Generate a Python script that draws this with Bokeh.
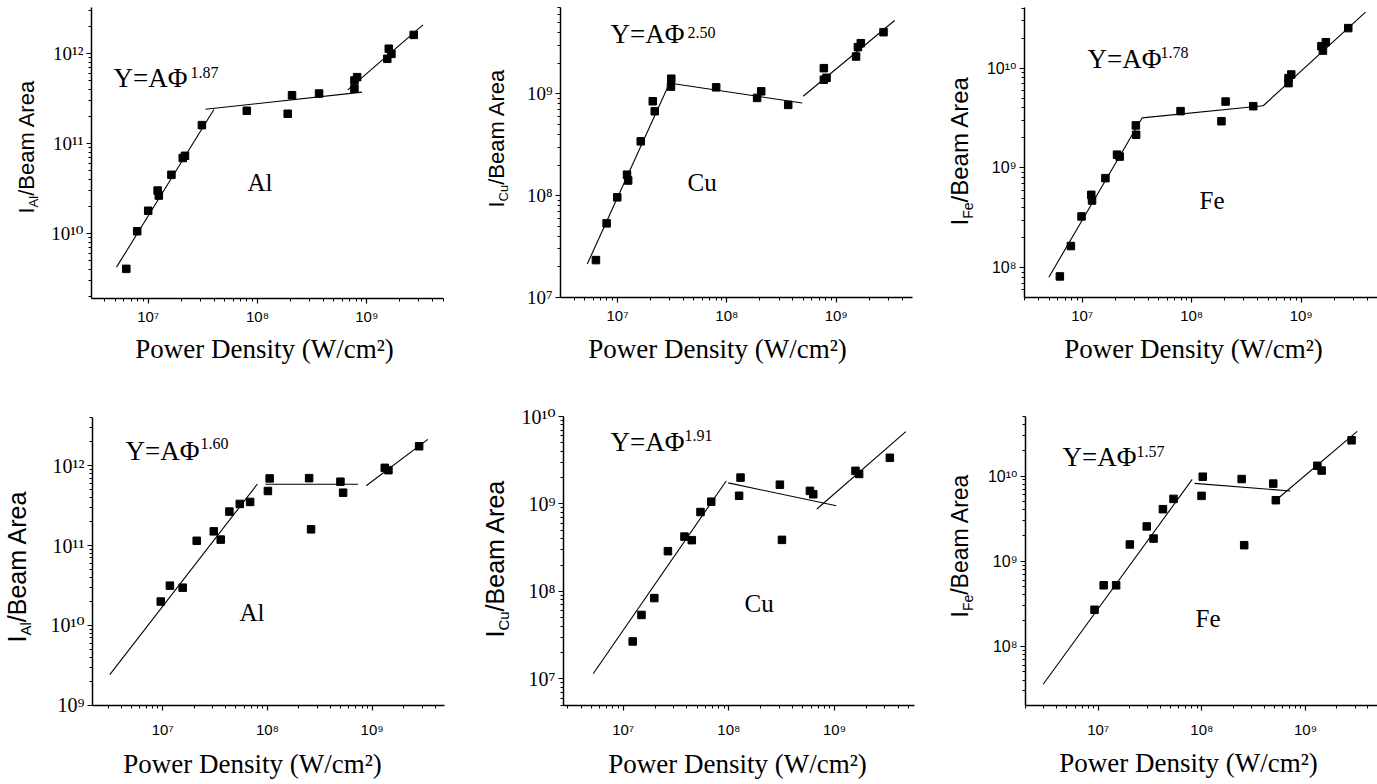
import math
from bokeh.plotting import figure
from bokeh.models import Range1d, FixedTicker, CustomJSTickFormatter, Label
from bokeh.layouts import row, column
from bokeh.embed import file_html
from bokeh.resources import INLINE

# ---------------- data ----------------
elements = ["Al", "Cu", "Fe", "Al", "Cu", "Fe"]
exponents = ["1.87", "2.50", "1.78", "1.60", "1.91", "1.57"]
x_title = "Power Density (W/cm\u00b2)"
y_title_tail = "/Beam Area"
x_ticks = [1e7, 1e8, 1e9]

# top-left: Al
al1_phi = [6.3e6, 7.93e6, 1.0e7, 1.22e7, 1.25e7, 1.63e7, 2.07e7, 2.17e7, 3.10e7, 7.98e7,
           1.89e8, 2.07e8, 3.66e8, 7.71e8, 7.71e8, 8.16e8, 1.54e9, 1.59e9, 1.68e9, 2.69e9]
al1_int = [4.05e9, 1.06e10, 1.79e10, 3.0e10, 2.64e10, 4.49e10, 6.9e10, 7.3e10, 1.60e11, 2.31e11,
           2.14e11, 3.44e11, 3.59e11, 4.05e11, 5.01e11, 5.46e11, 8.73e11, 1.13e12, 9.9e11, 1.61e12]
al1_fit_phi = [[5.13e6, 3.99e7], [3.34e7, 9.06e8], [6.7e8, 3.27e9]]
al1_fit_int = [[4.23e9, 2.39e11], [2.40e11, 3.72e11], [3.95e11, 2.08e12]]
al1_yticks = [1e10, 1e11, 1e12]

# top-middle: Cu
cu1_phi = [6.34e6, 7.94e6, 9.93e6, 1.22e7, 1.25e7, 1.63e7, 2.10e7, 2.19e7, 3.10e7, 3.08e7, 7.98e7,
           1.89e8, 2.06e8, 3.64e8, 7.71e8, 7.71e8, 8.16e8, 1.52e9, 1.58e9, 1.68e9, 2.71e9]
cu1_int = [2.33e7, 5.35e7, 9.64e7, 1.61e8, 1.41e8, 3.42e8, 8.47e8, 6.76e8, 1.41e9, 1.18e9, 1.16e9,
           9.14e8, 1.06e9, 7.8e8, 1.79e9, 1.38e9, 1.44e9, 2.33e9, 2.88e9, 3.15e9, 4.04e9]
cu1_fit_phi = [[5.28e6, 2.95e7], [2.95e7, 4.89e8], [4.99e8, 3.42e9]]
cu1_fit_int = [[2.13e7, 1.24e9], [1.28e9, 8.15e8], [9.48e8, 5.26e9]]
cu1_yticks = [1e7, 1e8, 1e9]

# top-right: Fe
fe1_phi = [6.25e6, 7.88e6, 9.86e6, 1.21e7, 1.23e7, 1.63e7, 2.08e7, 2.2e7, 3.09e7, 3.11e7, 7.91e7,
           1.87e8, 2.04e8, 3.65e8, 7.66e8, 7.66e8, 8.11e8, 1.53e9, 1.58e9, 1.68e9, 2.69e9]
fe1_int = [8.19e7, 1.65e8, 3.27e8, 5.38e8, 4.72e8, 7.91e8, 1.36e9, 1.3e9, 2.67e9, 2.15e9, 3.71e9,
           2.94e9, 4.63e9, 4.16e9, 7.08e9, 7.94e9, 8.64e9, 1.66e10, 1.50e10, 1.82e10, 2.52e10]
fe1_fit_phi = [[4.96e6, 3.53e7], [3.53e7, 4.50e8], [4.50e8, 3.87e9]]
fe1_fit_int = [[8.05e7, 3.18e9], [3.18e9, 4.2e9], [4.2e9, 3.64e10]]
fe1_yticks = [1e8, 1e9, 1e10]

# bottom-left: Al
al2_phi = [9.57e6, 1.17e7, 1.55e7, 2.11e7, 3.07e7, 3.58e7, 4.33e7, 5.44e7, 6.83e7, 1.01e8,
           1.05e8, 2.50e8, 2.61e8, 4.98e8, 5.28e8, 1.32e9, 1.43e9, 2.81e9]
al2_int = [1.99e10, 3.15e10, 2.97e10, 1.15e11, 1.51e11, 1.19e11, 2.67e11, 3.33e11, 3.53e11, 4.84e11,
           6.96e11, 7.01e11, 1.60e11, 6.33e11, 4.61e11, 9.44e11, 8.83e11, 1.76e12]
al2_fit_phi = [[3.12e6, 8.02e7], [9.57e7, 7.34e8], [8.77e8, 3.40e9]]
al2_fit_int = [[2.41e9, 5.92e11], [5.87e11, 5.87e11], [5.64e11, 2.15e12]]
al2_yticks = [1e9, 1e10, 1e11, 1e12]

# bottom-middle: Cu
cu2_phi = [1.23e7, 1.49e7, 1.97e7, 2.65e7, 3.80e7, 4.46e7, 5.39e7, 6.81e7, 1.25e8, 1.29e8,
           3.04e8, 3.18e8, 5.85e8, 6.29e8, 1.58e9, 1.71e9, 3.34e9]
cu2_int = [2.67e7, 5.37e7, 8.37e7, 2.88e8, 4.23e8, 3.85e8, 8.07e8, 1.06e9, 1.24e9, 2.0e9,
           1.66e9, 3.88e8, 1.41e9, 1.29e9, 2.39e9, 2.20e9, 3.37e9]
cu2_fit_phi = [[5.2e6, 9.44e7], [9.87e7, 1.04e9], [6.81e8, 4.73e9]]
cu2_fit_int = [[1.14e7, 1.83e9], [1.74e9, 9.51e8], [8.74e8, 6.70e9]]
cu2_yticks = [1e7, 1e8, 1e9, 1e10]

# bottom-right: Fe
fe2_phi = [9.22e6, 1.13e7, 1.49e7, 2.02e7, 2.94e7, 3.42e7, 4.21e7, 5.33e7, 9.93e7, 1.02e8,
           2.42e8, 2.56e8, 4.88e8, 5.17e8, 1.30e9, 1.43e9, 2.78e9]
fe2_int = [2.68e8, 5.20e8, 5.20e8, 1.57e9, 2.56e9, 1.84e9, 4.08e9, 5.39e9, 5.85e9, 9.82e9,
           9.22e9, 1.54e9, 8.15e9, 5.20e9, 1.32e10, 1.16e10, 2.63e10]
fe2_fit_phi = [[2.95e6, 8.07e7], [8.49e7, 7.16e8], [5.45e8, 3.15e9]]
fe2_fit_int = [[3.57e7, 9.14e9], [8.21e9, 6.68e9], [5.48e9, 3.35e10]]
fe2_yticks = [1e8, 1e9, 1e10]

# ---------------- layout / style ----------------
SERIF = "'Liberation Serif', 'DejaVu Serif', serif"
SANS = "'Liberation Sans', 'DejaVu Sans', sans-serif"
MID = 0.34  # distance (em) from the alphabetic baseline to the 'middle' anchor

# page geometry (px): column x-split, plot figure box, frame box, log ranges, text anchors
panels = [
    dict(phi=al1_phi, inten=al1_int, fphi=al1_fit_phi, fint=al1_fit_int, yt=al1_yticks,
         box=(0, 45, 460, 0, 330, 385), frame=(91, 443, 7, 298), xr=(6.481, 9.702), yr=(9.278, 12.511),
         yfont=(SERIF, 19), eq=(113, 87, 190, 77), el=(247, 190), xt=(264, 358),
         yl=(33, 245, 22, 13)),
    dict(phi=cu1_phi, inten=cu1_int, fphi=cu1_fit_phi, fint=cu1_fit_int, yt=cu1_yticks,
         box=(460, 515, 920, 0, 330, 385), frame=(560, 912, 7, 297), xr=(6.478, 9.698), yr=(7.0, 9.849),
         yfont=(SERIF, 19), eq=(610, 43, 687, 37), el=(687, 190), xt=(717, 358),
         yl=(503, 240, 22, 13)),
    dict(phi=fe1_phi, inten=fe1_int, fphi=fe1_fit_phi, fint=fe1_fit_int, yt=fe1_yticks,
         box=(920, 978, 1377, 0, 330, 385), frame=(1024, 1377, 7, 297), xr=(6.473, 9.697), yr=(7.702, 10.608),
         yfont=(SANS, 16), eq=(1087, 68, 1160, 57), el=(1199, 208), xt=(1193, 358),
         yl=(967, 258, 24, 14)),
    dict(phi=al2_phi, inten=al2_int, fphi=al2_fit_phi, fint=al2_fit_int, yt=al2_yticks,
         box=(0, 45, 460, 385, 740, 784), frame=(92, 444, 417, 707), xr=(6.329, 9.691), yr=(8.996, 12.606),
         yfont=(SERIF, 20), eq=(125, 462, 200, 450), el=(239, 622), xt=(252, 773),
         yl=(25, 677, 25, 15)),
    dict(phi=cu2_phi, inten=cu2_int, fphi=cu2_fit_phi, fint=cu2_fit_int, yt=cu2_yticks,
         box=(460, 515, 920, 385, 740, 784), frame=(563, 914, 416, 707), xr=(6.435, 9.757), yr=(6.694, 10.0),
         yfont=(SERIF, 20), eq=(610, 453, 684, 442), el=(744, 613), xt=(737, 773),
         yl=(503, 672, 25, 15)),
    dict(phi=fe2_phi, inten=fe2_int, fphi=fe2_fit_phi, fint=fe2_fit_int, yt=fe2_yticks,
         box=(920, 978, 1377, 385, 740, 784), frame=(1025, 1377, 416, 707), xr=(6.299, 9.694), yr=(7.303, 10.700),
         yfont=(SANS, 16), eq=(1062, 468, 1136, 458), el=(1195, 628), xt=(1188, 772),
         yl=(967, 652, 23, 14)),
]

ARIAL_W = {"I": 0.278, "A": 0.667, "l": 0.222, "C": 0.722, "u": 0.556, "F": 0.611,
           "e": 0.556, "/": 0.278, "B": 0.667, "a": 0.556, "m": 0.833, " ": 0.278, "r": 0.333}


def text_w(s, size):
    return sum(ARIAL_W.get(c, 0.55) for c in s) * size


fmt = CustomJSTickFormatter(code="""
const s = {"0":"\u2070","1":"\u00b9","2":"\u00b2","3":"\u00b3","4":"\u2074","5":"\u2075",
           "6":"\u2076","7":"\u2077","8":"\u2078","9":"\u2079","-":"\u207b"};
const e = Math.round(Math.log10(tick));
return "10" + String(e).split("").map(c => s[c]).join("");
""")


def minor_list(lo, hi):
    out = []
    for k in range(lo, hi):
        for m in range(2, 10):
            out.append(m * 10.0 ** k)
    return out


def blank_fig(w, h):
    f = figure(width=w, height=h, x_range=Range1d(0, 1), y_range=Range1d(0, 1),
               toolbar_location=None, output_backend="svg",
               x_axis_location=None, y_axis_location=None,
               min_border_left=0, min_border_right=0, min_border_top=0, min_border_bottom=0)
    f.outline_line_color = None
    f.grid.visible = False
    f.background_fill_color = "white"
    f.border_fill_color = "white"
    return f


def add_text(f, text, dx, dy, font, size, align="left", angle=0.0):
    # dx, dy: frame-relative position of the text's baseline start; anchor on the middle line
    if angle == 0.0:
        dy = dy + MID * size
    else:
        dx = dx - MID * size
    f.add_layout(Label(x=dx, y=dy, x_units="screen", y_units="screen",
                       text=text, text_font=font, text_font_size="%spx" % size,
                       text_color="black", text_align=align, text_baseline="middle",
                       angle=angle))


def make_panel(i, sp):
    x0, xs, x1, y0, ys, y1 = sp["box"]
    L, R, T, B = sp["frame"]
    p = figure(width=x1 - xs, height=ys - y0, x_axis_type="log", y_axis_type="log",
               x_range=Range1d(10 ** sp["xr"][0], 10 ** sp["xr"][1]),
               y_range=Range1d(10 ** sp["yr"][0], 10 ** sp["yr"][1]),
               toolbar_location=None, output_backend="svg",
               min_border_left=L - xs, min_border_right=x1 - R,
               min_border_top=T - y0, min_border_bottom=ys - B)
    p.outline_line_color = None
    p.grid.visible = False
    p.background_fill_color = "white"
    p.border_fill_color = "white"

    p.xaxis.ticker = FixedTicker(ticks=x_ticks, minor_ticks=minor_list(5, 11))
    p.yaxis.ticker = FixedTicker(ticks=sp["yt"], minor_ticks=minor_list(5, 14))
    for ax in (p.xaxis[0], p.yaxis[0]):
        ax.formatter = fmt
        ax.axis_line_color = "black"
        ax.axis_line_width = 1.5
        ax.major_tick_line_color = "black"
        ax.major_tick_line_width = 1.2
        ax.major_tick_out = 5
        ax.major_tick_in = 0
        ax.minor_tick_line_color = "black"
        ax.minor_tick_line_width = 1
        ax.minor_tick_out = 3
        ax.minor_tick_in = 0
        ax.major_label_text_color = "black"
    p.xaxis.major_label_text_font = SANS
    p.xaxis.major_label_text_font_size = "15px"
    p.xaxis.major_label_standoff = 4 if i < 3 else 10
    p.yaxis.major_label_text_font = sp["yfont"][0]
    p.yaxis.major_label_text_font_size = "%dpx" % sp["yfont"][1]
    p.yaxis.major_label_standoff = 3

    p.multi_line(xs=sp["fphi"], ys=sp["fint"], line_color="black", line_width=1.1)
    p.scatter(sp["phi"], sp["inten"], marker="square", size=7.5, color="black")

    # texts inside the frame (frame-relative screen coordinates)
    ex, ey, sx, sy = sp["eq"]
    add_text(p, "Y=A\u03a6", ex - L, B - ey, SERIF, 27)
    add_text(p, exponents[i], sx - L, B - sy, SERIF, 16)
    add_text(p, elements[i], sp["el"][0] - L, B - sp["el"][1], SERIF, 25)

    # y title in its own narrow figure at the left
    yf = blank_fig(xs - x0, ys - y0)
    bx, by, fs, ss = sp["yl"]
    up = math.pi / 2
    add_text(yf, "I", bx - x0, ys - by, SANS, fs, angle=up)
    y2 = by - text_w("I", fs)
    add_text(yf, elements[i], bx + 0.22 * fs - x0, ys - y2, SANS, ss, angle=up)
    y3 = y2 - text_w(elements[i], ss)
    add_text(yf, y_title_tail, bx - x0, ys - y3, SANS, fs, angle=up)

    # x title in its own strip below
    xf = blank_fig(x1 - x0, y1 - ys)
    add_text(xf, x_title, sp["xt"][0] - x0, y1 - sp["xt"][1], SERIF, 27, align="center")

    return column(row(yf, p, spacing=0), xf, spacing=0)


cells = [make_panel(i, sp) for i, sp in enumerate(panels)]
layout = column(row(*cells[:3], spacing=0), row(*cells[3:], spacing=0), spacing=0)

open("out.html", "w").write(file_html(layout, INLINE))
